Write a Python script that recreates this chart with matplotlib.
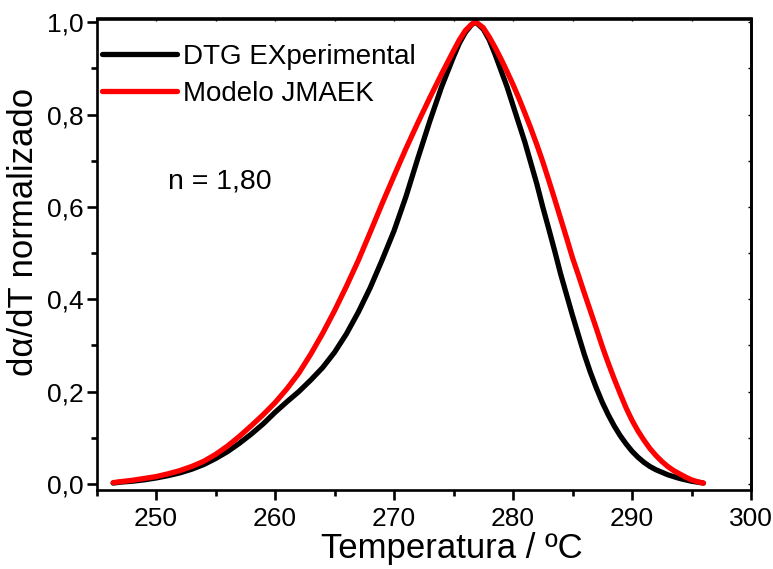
import matplotlib
matplotlib.use("Agg")
import matplotlib.pyplot as plt
from matplotlib.ticker import MultipleLocator, FuncFormatter

plt.rcParams['font.family'] = ['Liberation Sans', 'DejaVu Sans']

# Experimental DTG curve (normalised)
temp_exp = [246.4, 247, 248, 249, 250, 251, 252, 253, 254, 255,
            256, 257, 258, 259, 260, 261, 262, 263, 264, 265,
            266, 267, 268, 269, 270, 271, 272, 273, 274, 275,
            275.5, 276, 276.5, 276.8, 277, 277.5, 278, 278.5, 279, 279.5,
            280, 280.5, 281, 281.5, 282, 282.5, 283, 283.5, 284, 284.5,
            285, 285.5, 286, 286.5, 287, 287.5, 288, 288.5, 289, 289.5,
            290, 290.5, 291, 291.5, 292, 293, 294, 295, 296]
dtg_exp = [0.002, 0.004, 0.006, 0.009, 0.013, 0.018, 0.024, 0.032, 0.042, 0.055,
           0.070, 0.088, 0.108, 0.130, 0.155, 0.178, 0.200, 0.225, 0.252, 0.285,
           0.325, 0.372, 0.425, 0.485, 0.548, 0.622, 0.705, 0.785, 0.860, 0.925,
           0.955, 0.978, 0.994, 1.000, 0.997, 0.985, 0.962, 0.930, 0.895, 0.860,
           0.820, 0.780, 0.740, 0.695, 0.650, 0.600, 0.553, 0.505, 0.455, 0.410,
           0.365, 0.322, 0.280, 0.242, 0.208, 0.177, 0.150, 0.126, 0.105, 0.087,
           0.071, 0.058, 0.047, 0.038, 0.031, 0.020, 0.012, 0.006, 0.002]

# JMAEK model curve (normalised)
temp_mod = [246.4, 247, 248, 249, 250, 251, 252, 253, 254, 255,
            256, 257, 258, 259, 260, 261, 262, 263, 264, 265,
            266, 267, 268, 269, 270, 271, 272, 273, 274, 275,
            275.5, 276, 276.5, 276.8, 277, 277.5, 278, 278.5, 279, 279.5,
            280, 280.5, 281, 281.5, 282, 282.5, 283, 283.5, 284, 284.5,
            285, 285.5, 286, 286.5, 287, 287.5, 288, 288.5, 289, 289.5,
            290, 290.5, 291, 291.5, 292, 292.5, 293, 293.5, 294, 294.5,
            295, 295.5, 296]
dtg_mod = [0.003, 0.005, 0.008, 0.012, 0.016, 0.022, 0.029, 0.038, 0.049, 0.064,
           0.082, 0.103, 0.126, 0.150, 0.176, 0.206, 0.240, 0.281, 0.326, 0.375,
           0.428, 0.484, 0.545, 0.607, 0.667, 0.726, 0.782, 0.836, 0.888, 0.938,
           0.962, 0.982, 0.995, 1.000, 0.998, 0.988, 0.968, 0.945, 0.920, 0.893,
           0.865, 0.835, 0.803, 0.770, 0.735, 0.698, 0.658, 0.617, 0.575, 0.533,
           0.490, 0.452, 0.413, 0.375, 0.337, 0.298, 0.262, 0.228, 0.196, 0.165,
           0.138, 0.115, 0.095, 0.077, 0.062, 0.049, 0.038, 0.029, 0.022, 0.015,
           0.009, 0.005, 0.002]

series_labels = ['DTG EXperimental', 'Modelo JMAEK']
x_ticks = [250, 260, 270, 280, 290, 300]
y_ticks = [0.0, 0.2, 0.4, 0.6, 0.8, 1.0]

fig = plt.figure(figsize=(7.73, 5.69), dpi=100)
ax = fig.add_axes([96.5 / 773, 1 - 490 / 569, (751 - 96.5) / 773, (490 - 18.5) / 569])

ax.plot(temp_exp, dtg_exp, color='black', lw=3.8, solid_capstyle='round',
        solid_joinstyle='round', label=series_labels[0])
ax.plot(temp_mod, dtg_mod, color='#ff0000', lw=3.8, solid_capstyle='round',
        solid_joinstyle='round', label=series_labels[1])

ax.set_xlim(245, 300)
ax.set_ylim(-0.013, 1.008)
ax.set_xticks(x_ticks)
ax.set_yticks(y_ticks)
ax.xaxis.set_minor_locator(MultipleLocator(5))
ax.yaxis.set_minor_locator(MultipleLocator(0.1))
ax.yaxis.set_major_formatter(FuncFormatter(lambda v, p: f"{v:.1f}".replace('.', ',')))

for s in ax.spines.values():
    s.set_linewidth(1.9)

ax.tick_params(which='major', direction='out', length=7, width=1.9, labelsize=19)
ax.tick_params(axis='y', which='major', pad=2)
ax.tick_params(axis='x', which='major', pad=5)
ax.tick_params(which='minor', direction='out', length=4.5, width=1.9)

# small inward ticks on the top and right frame
top = ax.secondary_xaxis('top')
top.set_xticks(x_ticks)
top.xaxis.set_minor_locator(MultipleLocator(5))
top.tick_params(which='both', direction='in', length=2, width=1.0, labeltop=False)
top.spines['top'].set_linewidth(1.9)
right = ax.secondary_yaxis('right')
right.set_yticks(y_ticks)
right.yaxis.set_minor_locator(MultipleLocator(0.1))
right.tick_params(which='both', direction='in', length=2, width=1.0, labelright=False)
right.spines['right'].set_linewidth(1.9)

ax.set_xlabel('Temperatura / ºC', fontsize=25)
ax.set_ylabel('dα/dT normalizado', fontsize=25)
ax.xaxis.set_label_coords(0.543, -0.089)
ax.yaxis.set_label_coords(-0.086, 0.547)

ax.text(251.0, 0.655, 'n = 1,80', fontsize=20.5, va='center', ha='left')

ax.legend(loc='upper left', bbox_to_anchor=(-0.008, 0.97), frameon=False,
          fontsize=20, handlelength=2.7, handletextpad=0.22, labelspacing=0.41,
          borderaxespad=0.2, borderpad=0.2)

fig.savefig('out.png', dpi=100)
